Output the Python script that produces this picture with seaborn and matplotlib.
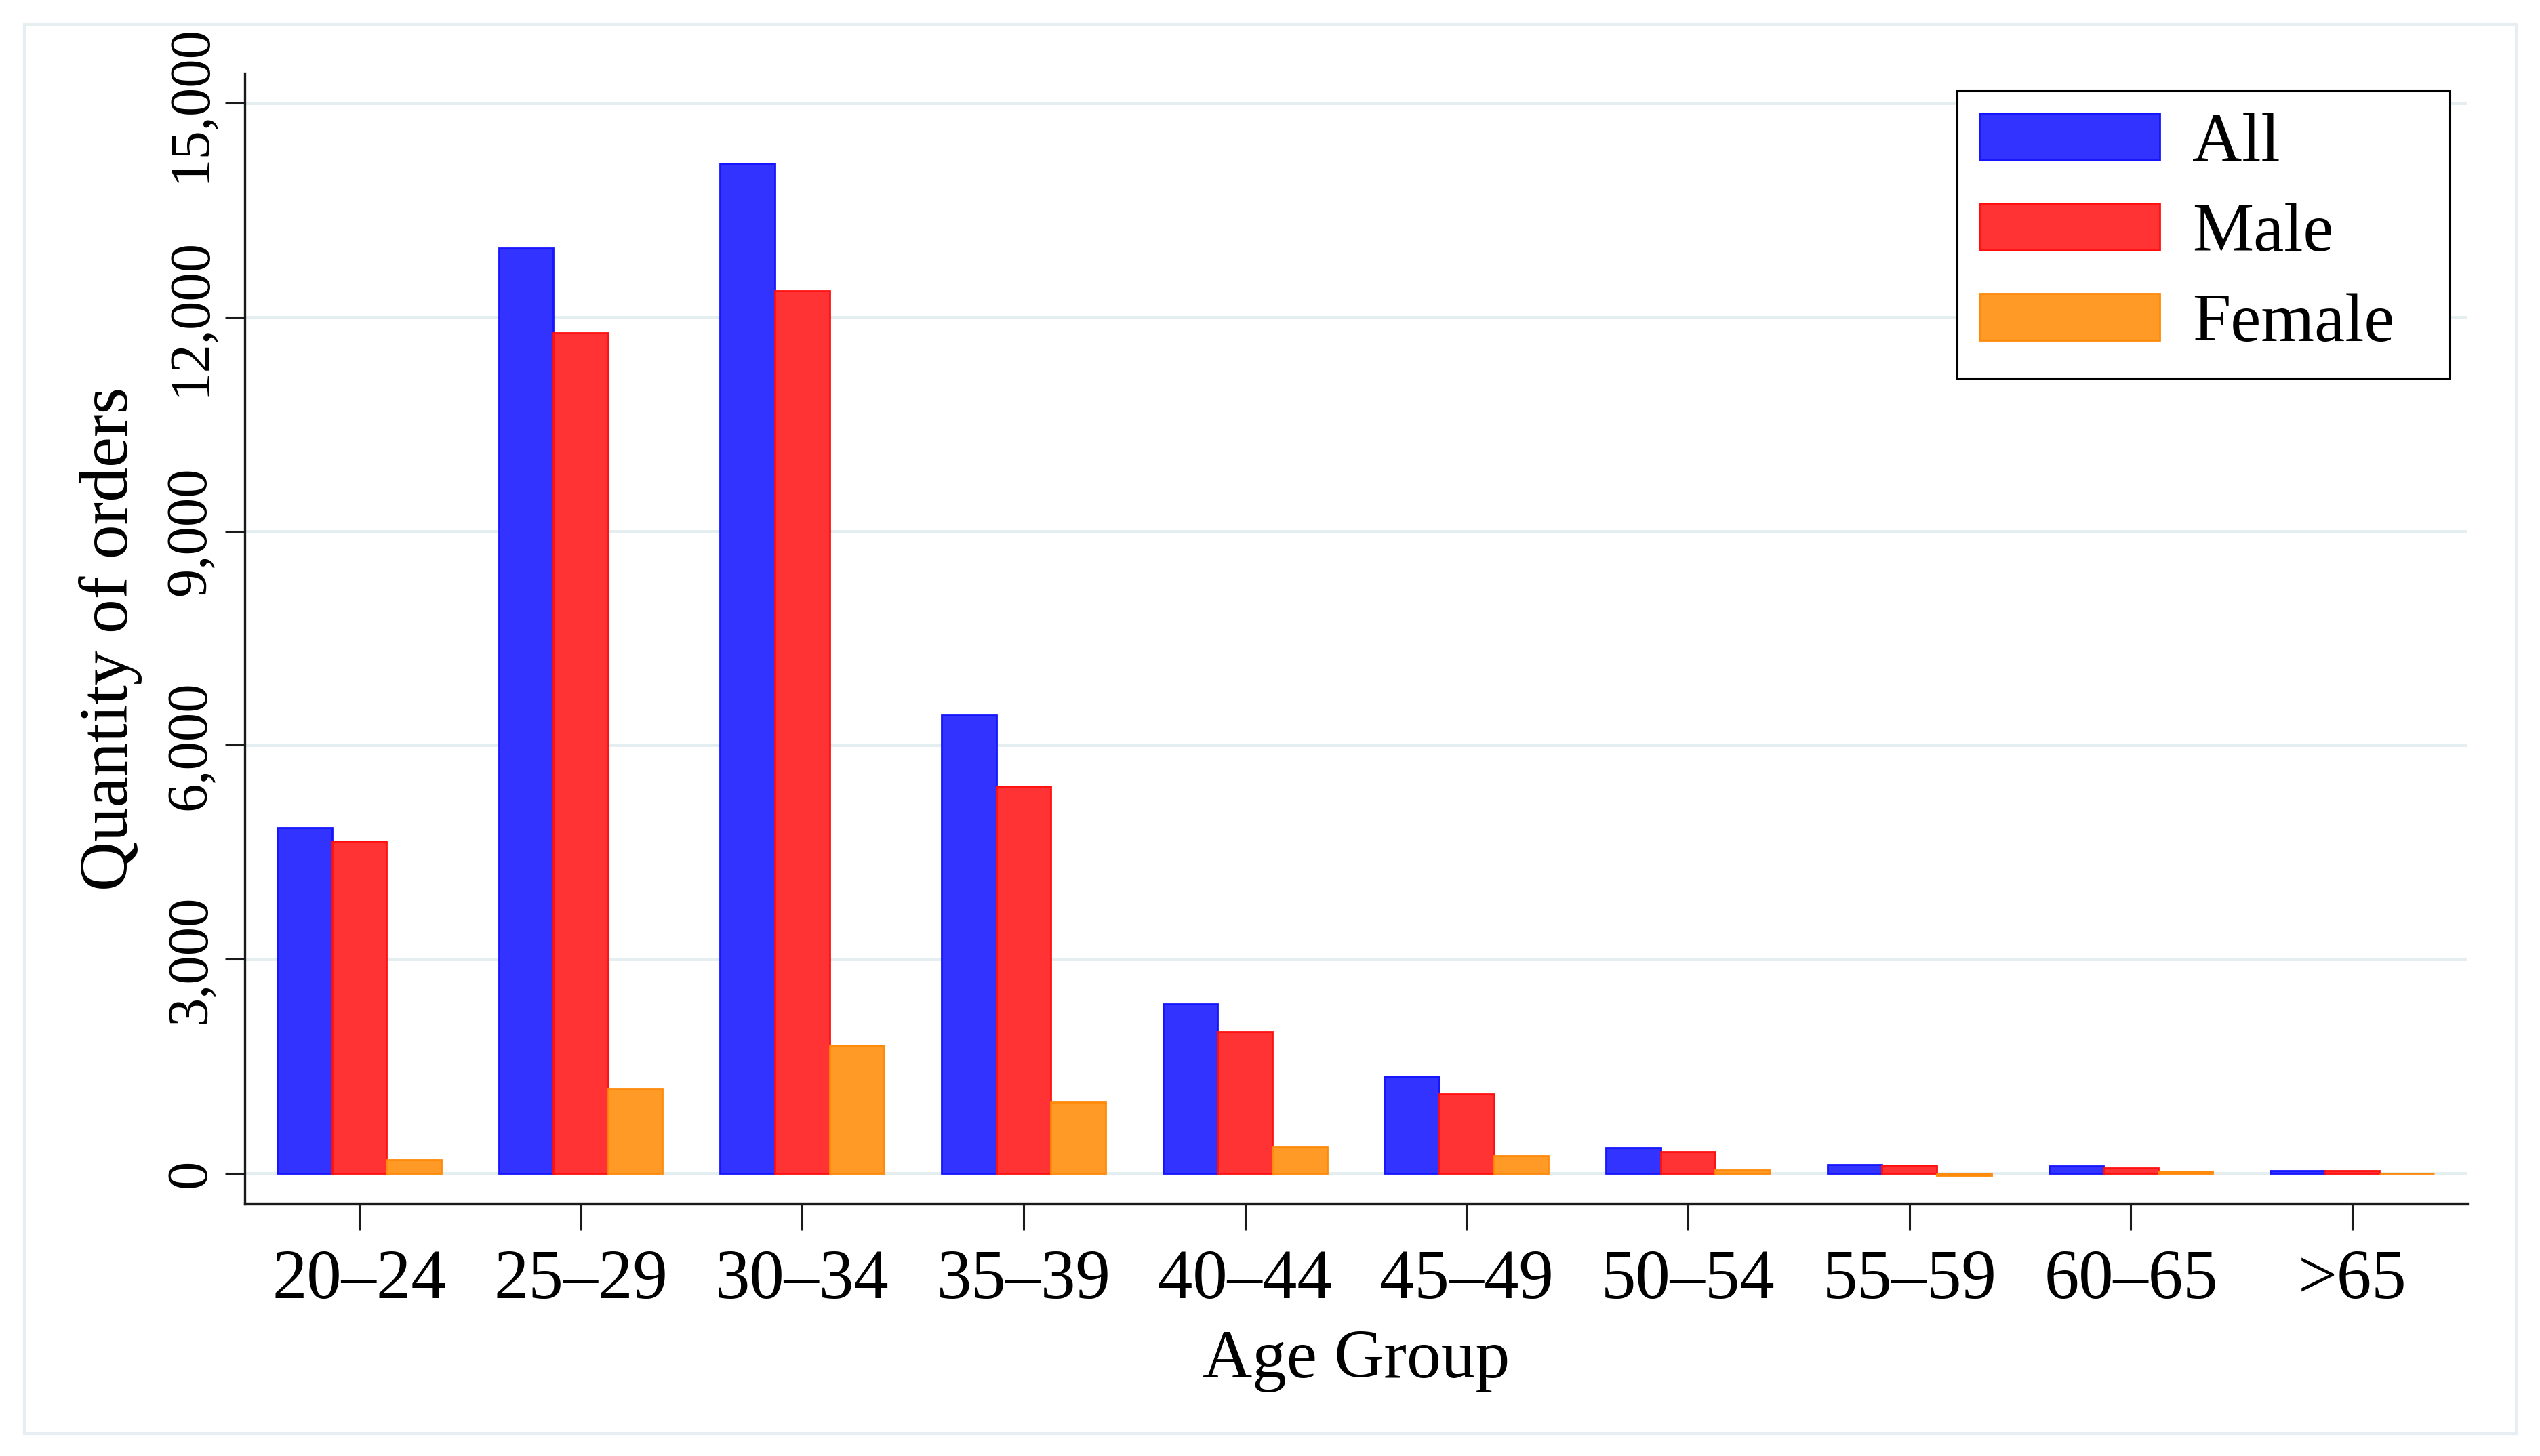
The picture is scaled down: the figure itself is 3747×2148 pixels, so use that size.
import numpy as np
import pandas as pd
import matplotlib
matplotlib.use("Agg")
import matplotlib.pyplot as plt
import seaborn as sns
from matplotlib.patches import Rectangle

# values
age_groups = ["20–24", "25–29", "30–34", "35–39", "40–44",
              "45–49", "50–54", "55–59", "60–65", ">65"]
all_orders = [4840, 12970, 14160, 6420, 2370, 1355, 355, 117, 98, 38]
male_orders = [4650, 11780, 12370, 5420, 1980, 1110, 300, 107, 76, 38]
female_orders = [190, 1190, 1790, 1000, 370, 240, 45, -30, 30, 0]
groups = ["All", "Male", "Female"]
y_ticks = [0, 3000, 6000, 9000, 12000, 15000]

fill = ["#3333ff", "#ff3333", "#ff9a26"]
edge = ["#1515ff", "#ff1010", "#ff8a0a"]

df = pd.DataFrame({
    "Age Group": age_groups * 3,
    "orders": all_orders + male_orders + female_orders,
    "group": np.repeat(groups, len(age_groups)),
})

sns.set_theme(style="white")
plt.rcParams["font.family"] = ["Liberation Serif", "DejaVu Serif"]
plt.rcParams["text.color"] = "black"
plt.rcParams["axes.labelcolor"] = "black"
plt.rcParams["xtick.color"] = "black"
plt.rcParams["ytick.color"] = "black"

W, H = 3748, 2148
fig = plt.figure(figsize=(W / 100, H / 100), dpi=100)
ax = fig.add_axes([361 / W, 1 - 1776 / H, (3640 - 361) / W, (1776 - 108) / H])

sns.barplot(data=df, x="Age Group", y="orders", hue="group", hue_order=groups,
            palette=fill, saturation=1, width=0.74, errorbar=None, ax=ax,
            linewidth=2)
for cont, ec in zip(ax.containers, edge):
    for p in cont:
        p.set_edgecolor(ec)

ax.set_xlim(-0.517, 9.52)
ax.set_ylim(-430, 15420)
ax.set_yticks(y_ticks)
ax.set_yticklabels([f"{v:,}" for v in y_ticks], rotation=90, va="center")
ax.yaxis.grid(True, color="#e4edf0", linewidth=3.5)
ax.xaxis.grid(False)
ax.set_axisbelow(True)

for s in ["top", "right"]:
    ax.spines[s].set_visible(False)
for s in ["left", "bottom"]:
    ax.spines[s].set_color("#1a1a1a")
    ax.spines[s].set_linewidth(2.4)

ax.tick_params(axis="y", length=21, width=2.2, color="#1a1a1a", pad=8,
               labelsize=61, left=True)
ax.tick_params(axis="x", length=28, width=2.2, color="#1a1a1a", pad=20,
               labelsize=74, bottom=True)

ax.set_xlabel("Age Group", fontsize=73)
ax.set_ylabel("Quantity of orders", fontsize=73)
ax.xaxis.set_label_coords(0.5, -0.111)
ax.yaxis.set_label_coords(-0.046, 0.5)

old = ax.legend_
handles = old.legend_handles
labels = [t.get_text() for t in old.texts]
old.remove()
for h, ec in zip(handles, edge):
    h.set_edgecolor(ec)
    h.set_linewidth(2)
leg = ax.legend(handles, labels, loc="upper left", mode="expand",
                bbox_to_anchor=(0.7704, 0.7338, 0.2217, 0.2506),
                borderaxespad=0, fontsize=73, frameon=True, fancybox=False,
                framealpha=1, edgecolor="black", handlelength=2.63,
                handleheight=0.68, handletextpad=0.47, labelspacing=0.4,
                borderpad=0.32)
leg.get_frame().set_linewidth(2.2)

# light outer border round the graph region
fig.patches.append(Rectangle((36 / W, 1 - 2115 / H), (3712 - 36) / W,
                             (2115 - 36) / H, transform=fig.transFigure,
                             fill=False, edgecolor="#e6eef2", linewidth=3))

fig.savefig("out.png", dpi=100)
